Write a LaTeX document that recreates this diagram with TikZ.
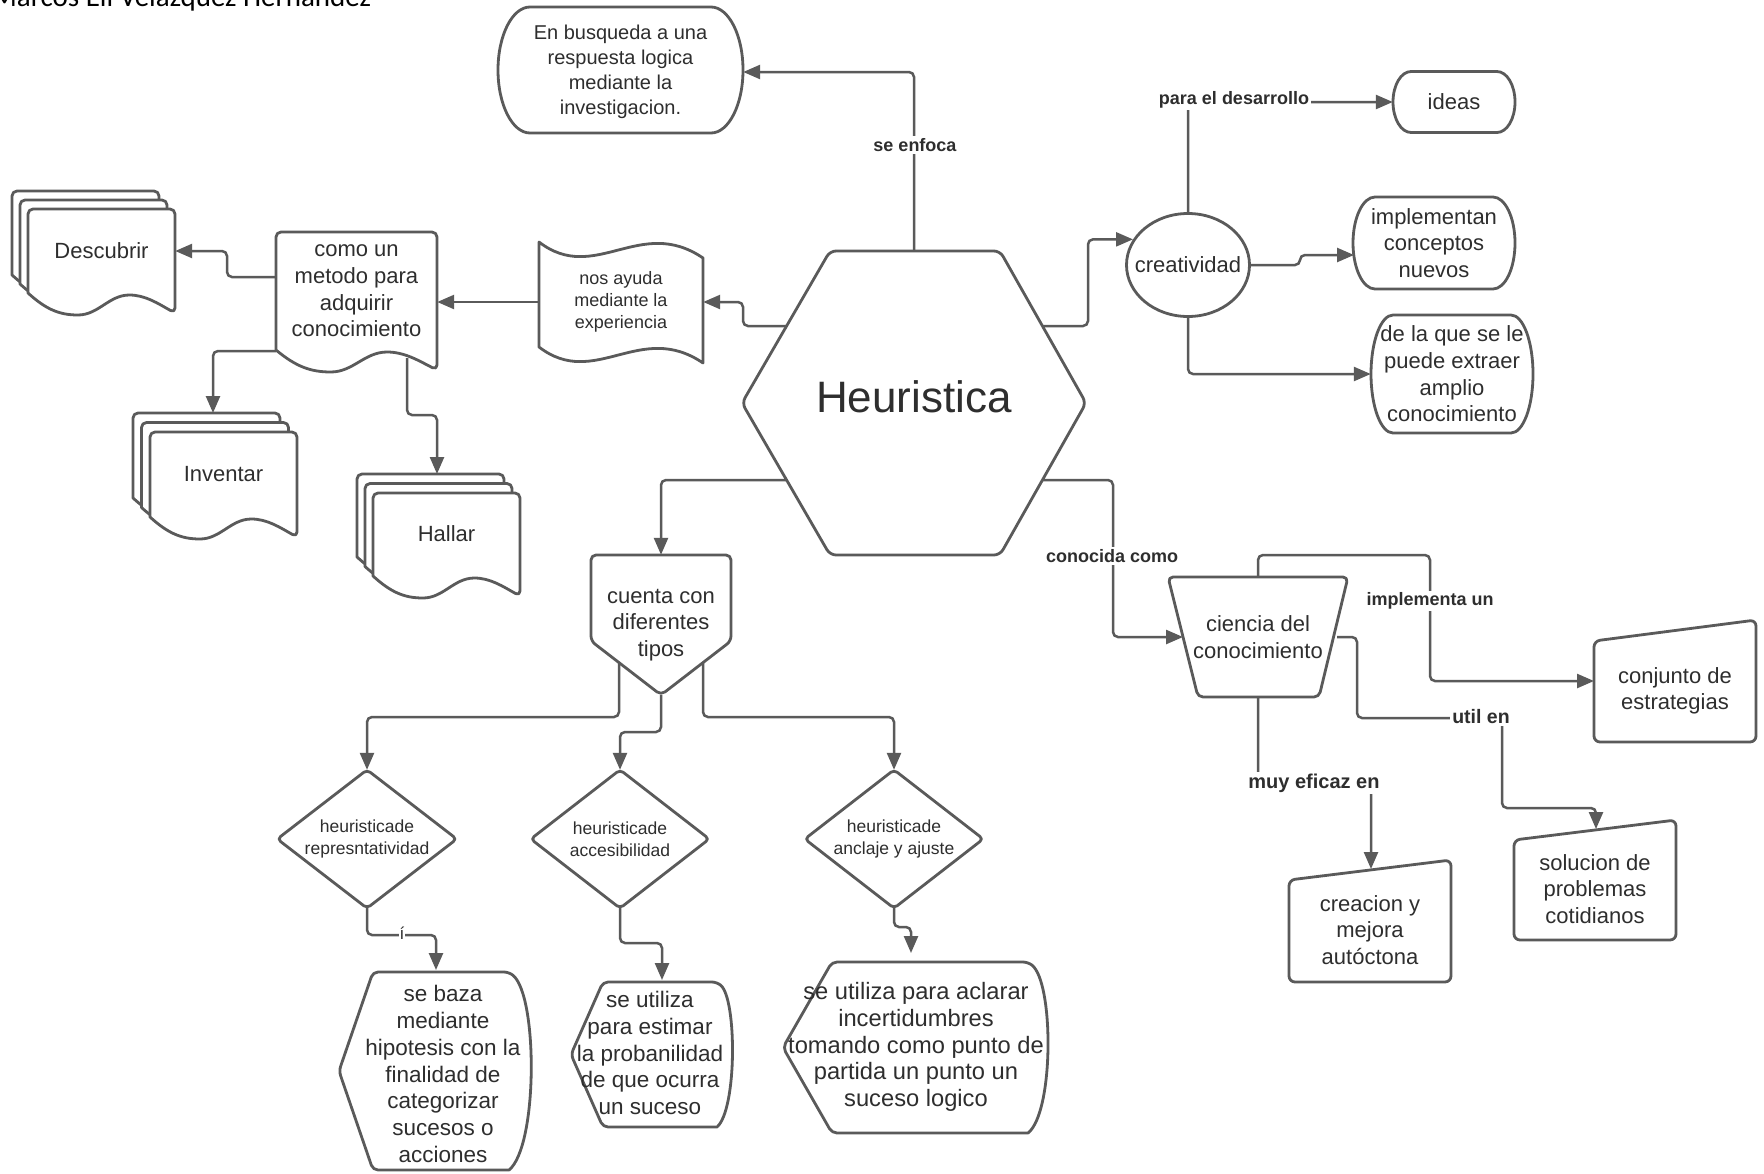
\documentclass[tikz,border=0pt]{standalone}
\usepackage{fontspec}
\setmainfont{Liberation Sans}
\newfontfamily\titlefont{Carlito}
\usetikzlibrary{arrows.meta,shapes.geometric,calc}
\definecolor{ln}{HTML}{5A5A5A}
\definecolor{tx}{HTML}{2E2E2E}
\newcommand\fs[2]{\fontsize{#1}{#2}\selectfont}
% document shape: x0 y0 x1 yl
\newcommand\docshape[4]{%
  \draw[shp, fill=white] ({#3},{#4+20}) .. controls ({#3-0.11*((#3)-(#1))},{#4+11}) and ({#3-0.2*((#3)-(#1))},{#4+2}) .. ({#1+0.69*((#3)-(#1))},{#4+2}) .. controls ({#1+0.55*((#3)-(#1))},{#4+2}) and ({#1+0.48*((#3)-(#1))},{#4+22}) .. ({#1+0.34*((#3)-(#1))},{#4+22}) .. controls ({#1+0.21*((#3)-(#1))},{#4+22}) and ({#1+0.12*((#3)-(#1))},{#4+16}) .. ({#1},{#4}) [rounded corners=5pt] -- ({#1},{#2}) -- ({#3},{#2}) -- cycle;}
\newcommand\multidoc[6]{%
  \docshape{(#1-2*#5)}{(#2-2*#6)}{(#3-2*#5)}{(#4-2*#6)}
  \docshape{(#1-#5)}{(#2-#6)}{(#3-#5)}{(#4-#6)}
  \docshape{#1}{#2}{#3}{#4}}
% display shape: xl xt xr yt yb bulge
\newcommand\dispshape[6]{%
  \draw[shp, rounded corners=5pt] ({#1},{(#4+#5)/2}) -- ({#2},{#4}) -- ({#3},{#4}) [sharp corners] .. controls ({#3+#6},{#4+0.12*(#5-#4)}) and ({#3+#6},{#5-0.12*(#5-#4)}) .. ({#3},{#5}) [rounded corners=5pt] -- ({#2},{#5}) -- cycle;}
% stadium with elliptical ends: cx cy w h rx
\newcommand\stadium[5]{%
  \draw[shp] ({#1-#3/2+#5},{#2-#4/2}) -- ({#1+#3/2-#5},{#2-#4/2})
   .. controls ({#1+#3/2-0.448*#5},{#2-#4/2}) and ({#1+#3/2},{#2-0.276*#4}) .. ({#1+#3/2},{#2})
   .. controls ({#1+#3/2},{#2+0.276*#4}) and ({#1+#3/2-0.448*#5},{#2+#4/2}) .. ({#1+#3/2-#5},{#2+#4/2})
   -- ({#1-#3/2+#5},{#2+#4/2})
   .. controls ({#1-#3/2+0.448*#5},{#2+#4/2}) and ({#1-#3/2},{#2+0.276*#4}) .. ({#1-#3/2},{#2})
   .. controls ({#1-#3/2},{#2-0.276*#4}) and ({#1-#3/2+0.448*#5},{#2-#4/2}) .. ({#1-#3/2+#5},{#2-#4/2}) -- cycle;}
\begin{document}
\begin{tikzpicture}[x=1pt,y=-1pt,
  txt/.style={text=tx, align=center, inner sep=0pt, font=\fs{22}{26.6}},
  shp/.style={draw=ln, line width=2.8pt, line join=round},
  con/.style={draw=ln, line width=2.5pt, rounded corners=5pt},
  arr/.style={con, -{Triangle[length=17pt,width=14pt]}},
  lbl/.style={text=tx, fill=white, inner sep=2pt, font=\bfseries\fs{18}{21}},
]
\fill[white] (0,0) rectangle (1764,1173);
\useasboundingbox (0,0) rectangle (1764,1173);

% title
\node[anchor=base west, inner sep=0pt, font=\titlefont\fs{29}{34}, text=black] (title) at (-8,6.5) {Marcos Eli Velazquez Hernandez};

% central hexagon
\draw[shp, rounded corners=6pt] (830,251) -- (1000,251) -- (1086,403) -- (1000,555) -- (830,555) -- (742,403) -- cycle;
\node[txt, minimum width=344pt, minimum height=304pt, text height=31.5pt, text depth=13pt, font=\fs{44}{50}] (hex) at (914,403) {Heuristica};

% top stadium
\stadium{620.5}{70}{245}{126}{32}
\node[txt, minimum width=245pt, minimum height=126pt, font=\fs{20}{25}] (busq) at (620.5,72) {En busqueda a una\\respuesta logica\\mediante la\\investigacion.};

% tape
\draw[shp] (539,242) .. controls (595,285) and (640,215) .. (703,258) -- (703,363) .. controls (640,320) and (595,390) .. (539,347) -- cycle;
\node[txt, font=\fs{18}{21.7}, minimum width=164pt, minimum height=105pt] (tape) at (621,302) {nos ayuda\\mediante la\\experiencia};

% como un metodo (document)
\docshape{276}{232}{437}{350}
\node[txt, minimum width=161pt, minimum height=118pt] (como) at (356.5,291) {como un\\metodo para\\adquirir\\conocimiento};

% multi documents
\multidoc{28}{209}{175}{293}{8}{9}
\node[txt, minimum width=147pt, minimum height=84pt] (desc) at (101.5,251) {Descubrir};
\multidoc{150}{432}{297}{517}{8.5}{9.5}
\node[txt, minimum width=147pt, minimum height=85pt] (inv) at (223.5,474) {Inventar};
\multidoc{373}{493}{520}{576}{8}{9.5}
\node[txt, minimum width=147pt, minimum height=83pt] (hall) at (446.5,534) {Hallar};

% creatividad group
\node[txt, shp, ellipse, minimum width=123pt, minimum height=103pt] (creat) at (1188,265) {\makebox[0pt][c]{creatividad}};
\stadium{1454}{102}{122}{61}{18}
\node[txt, minimum width=122pt, minimum height=61pt] (ideas) at (1454,102) {ideas};
\stadium{1434}{243}{162}{92}{22}
\node[txt, minimum width=162pt, minimum height=92pt] (impl) at (1434,243) {implementan\\conceptos\\nuevos};
\stadium{1452}{374}{162}{118}{22}
\node[txt, minimum width=162pt, minimum height=118pt] (delaque) at (1452,374) {de la que se le\\puede extraer\\amplio\\conocimiento};

% ciencia del conocimiento
\draw[shp, rounded corners=5pt] (1168,577) -- (1348,577) -- (1319,697) -- (1198,697) -- cycle;
\node[txt, minimum width=180pt, minimum height=120pt] (cien) at (1258,637) {ciencia del\\conocimiento};

\draw[shp, rounded corners=6pt] (1594,641) -- (1756,620) -- (1756,742) -- (1594,742) -- cycle;
\node[txt, minimum width=162pt, minimum height=101pt] (conj) at (1675,691) {conjunto de\\estrategias};
\draw[shp, rounded corners=6pt] (1514,840) -- (1676,820) -- (1676,940) -- (1514,940) -- cycle;
\node[txt, minimum width=162pt, minimum height=100pt] (sol) at (1595,889) {solucion de\\problemas\\cotidianos};
\draw[shp, rounded corners=6pt] (1289,880) -- (1451,860) -- (1451,982) -- (1289,982) -- cycle;
\node[txt, minimum width=162pt, minimum height=102pt] (crea) at (1370,930) {creacion y\\mejora\\autóctona};

% cuenta con diferentes tipos
\draw[shp, rounded corners=5pt] (591,555) -- (731,555) -- (731,641) -- (661,695) -- (591,641) -- cycle;
\node[txt, minimum width=140pt, minimum height=140pt] (cuenta) at (661,625) {cuenta con\\diferentes\\tipos};

% diamonds
\node[txt, minimum width=179pt, minimum height=138pt, font=\fs{17.5}{22}] (d1) at (367,839) {heuristicade\\represntatividad};
\draw[shp, rounded corners=4pt] (d1.north) -- (d1.east) -- (d1.south) -- (d1.west) -- cycle;
\node[txt, minimum width=178pt, minimum height=138pt, font=\fs{17.5}{22}] (d2) at (620,839) {heuristicade\\accesibilidad};
\draw[shp, rounded corners=4pt] (d2.north) -- (d2.east) -- (d2.south) -- (d2.west) -- cycle;
\node[txt, minimum width=178pt, minimum height=138pt, font=\fs{17.5}{22}] (d3) at (894,839) {heuristicade\\anclaje y ajuste};
\draw[shp, rounded corners=4pt] (d3.north) -- (d3.east) -- (d3.south) -- (d3.west) -- cycle;

% display shapes
\dispshape{339}{373}{509}{972}{1170}{29}
\node[txt, font=\fs{22.5}{26.7}, minimum width=170pt, minimum height=198pt] (sebaza) at (443,1074) {se baza\\mediante\\hipotesis con la\\finalidad de\\categorizar\\sucesos o\\acciones};
\dispshape{571}{603}{717}{982}{1127}{20}
\node[txt, font=\fs{22.5}{26.6}, minimum width=150pt, minimum height=145pt] (seutil) at (650,1053) {se utiliza\\para estimar\\la probanilidad\\de que ocurra\\un suceso};
\dispshape{783}{832}{1028}{962}{1133}{26}
\node[txt, font=\fs{23.7}{26.7}, minimum width=240pt, minimum height=171pt] (aclarar) at (916,1047) {se utiliza para aclarar\\incertidumbres\\tomando como punto de\\partida un punto un\\suceso logico};

% connector end points on borders
\coordinate (hexL1) at (787,326);
\coordinate (hexL2) at (787,480);
\coordinate (hexR1) at (1042,326);
\coordinate (hexR2) at (1042,480);

% connectors
\draw[arr] (hex.north) |- (busq.east);
\draw[arr] (hexL1) -- (743,326) |- (tape.east);
\draw[arr] (tape.west) -- (tape.west -| como.east);
\draw[arr] (276,277) -- (227,277) |- (desc.east);
\draw[arr] (276,351) -- (213,351) -- (213,413);
\draw[arr] (407,358) -- (407,415) -- (437,415) -- (437,474);
\draw[arr] (hexR1) -- (1088,326) |- (creat.155);
\draw[arr] (creat.north) |- (ideas.west);
\draw[arr] (creat.east) -- (1300,265) -- (1300,255) -- (1354,255);
\draw[arr] (creat.south) |- (delaque.west);
\draw[arr] (hexR2) -- (1113,480) |- (1183,637);
\draw[arr] (cien.north) -- (1258,555) -| (1430,681) -- (1594,681);
\draw[arr] (1337,637) -- (1357,637) -- (1357,718) -- (1502,718) -- (1502,808) -- (1596,808) -- (1596,829);
\draw[arr] (cien.south) -- (1258,783) -| (1371,869);
\draw[arr] (hexL2) -| (cuenta.north);
\draw[arr] (619,663) -- (619,717) -| (d1.north);
\draw[arr] (cuenta.south) -- (661,732) -| (d2.north);
\draw[arr] (703,663) -- (703,717) -| (d3.north);
\draw[arr] (d1.south) -- (367,935) -| (436,970);
\draw[arr] (d2.south) -- (620,943) -| (662,980);
\draw[arr] (d3.south) -- (894,927) -| (911,953);

% labels
\node[lbl] (l1) at (915,145) {se enfoca};
\node[lbl] (l2) at (1234,100) {para el desarrollo};
\node[lbl] (l3) at (1112,556) {conocida como};
\node[lbl] (l4) at (1430,601) {implementa un};
\node[lbl, font=\bfseries\fs{19.5}{22}] (l5) at (1481,717) {util en};
\node[lbl, font=\bfseries\fs{20}{23}] (l6) at (1314,783) {muy eficaz en};
\node[lbl, font=\fs{17}{20}, inner sep=1pt] (l7) at (402,933) {í};
\end{tikzpicture}
\end{document}
